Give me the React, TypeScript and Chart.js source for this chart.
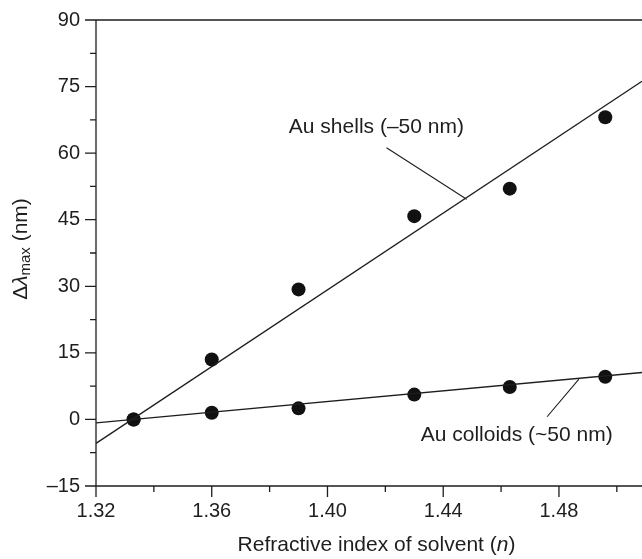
import React, { useEffect, useRef } from 'react';
import { Chart, registerables } from 'chart.js';

Chart.register(...registerables);

// ---- data ----
const refractiveIndex = [1.333, 1.36, 1.39, 1.43, 1.463, 1.496];
const shellShift = [0, 13.5, 29.3, 45.8, 52.0, 68.1];
const colloidShift = [0, 1.5, 2.5, 5.6, 7.3, 9.6];
const fitX = [1.32, 1.5087];
const shellFitY = [-5.4, 76.2];
const colloidFitY = [-0.77, 10.58];
const xMajorTicks = [1.32, 1.36, 1.4, 1.44, 1.48];
const xMinorTicks = [1.34, 1.38, 1.42, 1.46, 1.5];
const yMajorTicks = [-15, 0, 15, 30, 45, 60, 75, 90];
const yMinorTicks = [-7.5, 7.5, 22.5, 37.5, 52.5, 67.5, 82.5];
const shellLabel = 'Au shells (–50 nm)';
const colloidLabel = 'Au colloids (~50 nm)';
// label anchors (data coords) and leader lines [x1, y1, x2, y2]
const shellLabelPos = [1.4169, 65.8];
const shellLeader = [1.4204, 61.2, 1.4481, 49.6];
const colloidLabelPos = [1.4654, -3.5];
const colloidLeader = [1.4869, 9.1, 1.4759, 0.6];

const FONT = '"Liberation Sans", Arial, Helvetica, sans-serif';
const INK = '#1e1e1e';

const decorPlugin = {
  id: 'decor',
  afterDraw(chart: any) {
    const { ctx, chartArea } = chart;
    const xs = chart.scales.x;
    const ys = chart.scales.y;
    const { left, right, top, bottom } = chartArea;
    ctx.save();
    ctx.strokeStyle = INK;
    ctx.lineWidth = 1.3;
    // axes
    ctx.beginPath();
    ctx.moveTo(left, top);
    ctx.lineTo(left, bottom);
    ctx.lineTo(right, bottom);
    ctx.moveTo(left, top);
    ctx.lineTo(right, top);
    ctx.stroke();
    // y ticks
    ctx.beginPath();
    yMajorTicks.forEach((v) => {
      const p = ys.getPixelForValue(v);
      ctx.moveTo(left - 11, p);
      ctx.lineTo(left, p);
    });
    yMinorTicks.forEach((v) => {
      const p = ys.getPixelForValue(v);
      ctx.moveTo(left - 6, p);
      ctx.lineTo(left, p);
    });
    // x ticks
    xMajorTicks.forEach((v) => {
      const p = xs.getPixelForValue(v);
      ctx.moveTo(p, bottom);
      ctx.lineTo(p, bottom + 11);
    });
    xMinorTicks.forEach((v) => {
      const p = xs.getPixelForValue(v);
      ctx.moveTo(p, bottom);
      ctx.lineTo(p, bottom + 6);
    });
    ctx.stroke();

    // leader lines
    ctx.lineWidth = 1.1;
    ctx.beginPath();
    [shellLeader, colloidLeader].forEach((l) => {
      ctx.moveTo(xs.getPixelForValue(l[0]), ys.getPixelForValue(l[1]));
      ctx.lineTo(xs.getPixelForValue(l[2]), ys.getPixelForValue(l[3]));
    });
    ctx.stroke();

    // annotation labels
    ctx.fillStyle = INK;
    ctx.font = `21px ${FONT}`;
    ctx.textAlign = 'center';
    ctx.textBaseline = 'middle';
    ctx.fillText(shellLabel, xs.getPixelForValue(shellLabelPos[0]), ys.getPixelForValue(shellLabelPos[1]));
    ctx.fillText(colloidLabel, xs.getPixelForValue(colloidLabelPos[0]), ys.getPixelForValue(colloidLabelPos[1]));

    // x axis title with italic n
    const xt1 = 'Refractive index of solvent (';
    const xt2 = 'n';
    const xt3 = ')';
    ctx.textAlign = 'left';
    ctx.font = `21px ${FONT}`;
    const w1 = ctx.measureText(xt1).width;
    const w3 = ctx.measureText(xt3).width;
    ctx.font = `italic 21px ${FONT}`;
    const w2 = ctx.measureText(xt2).width;
    const total = w1 + w2 + w3;
    let cx = 376.5 - total / 2;
    const cy = 545;
    ctx.font = `21px ${FONT}`;
    ctx.fillText(xt1, cx, cy);
    cx += w1;
    ctx.font = `italic 21px ${FONT}`;
    ctx.fillText(xt2, cx, cy);
    cx += w2;
    ctx.font = `21px ${FONT}`;
    ctx.fillText(xt3, cx, cy);

    // y axis title: Δλmax (nm)
    ctx.translate(21, 249);
    ctx.rotate(-Math.PI / 2);
    const parts: [string, string, number][] = [
      ['Δ', `21px ${FONT}`, 0],
      ['λ', `italic 21px ${FONT}`, 0],
      ['max', `15px ${FONT}`, 5],
      [' (nm)', `21px ${FONT}`, 0],
    ];
    let tw = 0;
    parts.forEach(([t, f]) => {
      ctx.font = f;
      tw += ctx.measureText(t).width;
    });
    let px = -tw / 2;
    parts.forEach(([t, f, dy]) => {
      ctx.font = f;
      ctx.fillText(t, px, dy);
      px += ctx.measureText(t).width;
    });
    ctx.restore();
  },
};

export default function App() {
  const ref = useRef<HTMLCanvasElement | null>(null);
  useEffect(() => {
    if (!ref.current) return;
    document.documentElement.style.overflow = 'hidden';
    document.body.style.margin = '0';
    document.body.style.overflow = 'hidden';
    Chart.defaults.font.family = FONT;
    Chart.defaults.color = INK;
    const toPts = (xa: number[], ya: number[]) => xa.map((x, i) => ({ x, y: ya[i] }));
    const chart = new Chart(ref.current, {
      type: 'scatter',
      data: {
        datasets: [
          {
            type: 'line',
            label: 'Au shells fit',
            data: toPts(fitX, shellFitY),
            borderColor: INK,
            borderWidth: 1.3,
            pointRadius: 0,
            fill: false,
          } as any,
          {
            type: 'line',
            label: 'Au colloids fit',
            data: toPts(fitX, colloidFitY),
            borderColor: INK,
            borderWidth: 1.3,
            pointRadius: 0,
            fill: false,
          } as any,
          {
            label: 'Au shells',
            data: toPts(refractiveIndex, shellShift),
            backgroundColor: '#111',
            borderColor: '#111',
            pointRadius: 7,
            borderWidth: 0,
          },
          {
            label: 'Au colloids',
            data: toPts(refractiveIndex, colloidShift),
            backgroundColor: '#111',
            borderColor: '#111',
            pointRadius: 7,
            borderWidth: 0,
          },
        ],
      },
      options: {
        animation: false,
        responsive: false,
        devicePixelRatio: 1,
        layout: { autoPadding: false, padding: { top: 20, right: 0, left: 0, bottom: 0 } },
        plugins: { legend: { display: false }, tooltip: { enabled: false } },
        scales: {
          x: {
            type: 'linear',
            min: fitX[0],
            max: fitX[1],
            grid: { display: false, drawTicks: false },
            border: { display: false },
            afterFit: (s: any) => {
              s.height = 73;
              s.paddingLeft = 0;
              s.paddingRight = 0;
            },
            afterBuildTicks: (s: any) => {
              s.ticks = xMajorTicks.map((v) => ({ value: v }));
            },
            ticks: {
              padding: 13,
              maxRotation: 0,
              autoSkip: false,
              font: { size: 20 },
              color: INK,
              callback: (v: any) => Number(v).toFixed(2),
            },
          },
          y: {
            type: 'linear',
            min: -15,
            max: 90,
            grid: { display: false, drawTicks: false },
            border: { display: false },
            afterFit: (s: any) => {
              s.width = 96;
              s.paddingTop = 0;
              s.paddingBottom = 0;
            },
            afterBuildTicks: (s: any) => {
              s.ticks = yMajorTicks.map((v) => ({ value: v }));
            },
            ticks: {
              padding: 16,
              autoSkip: false,
              font: { size: 20 },
              color: INK,
              callback: (v: any) => (Number(v) < 0 ? '–' + Math.abs(Number(v)) : String(v)),
            },
          },
        },
      },
      plugins: [decorPlugin],
    });
    return () => chart.destroy();
  }, []);
  return (
    <div style={{ position: 'absolute', left: 0, top: 0, width: 642, height: 559, overflow: 'hidden', background: '#fff' }}>
      <canvas ref={ref} width={642} height={559} style={{ display: 'block', width: 642, height: 559 }} />
    </div>
  );
}
